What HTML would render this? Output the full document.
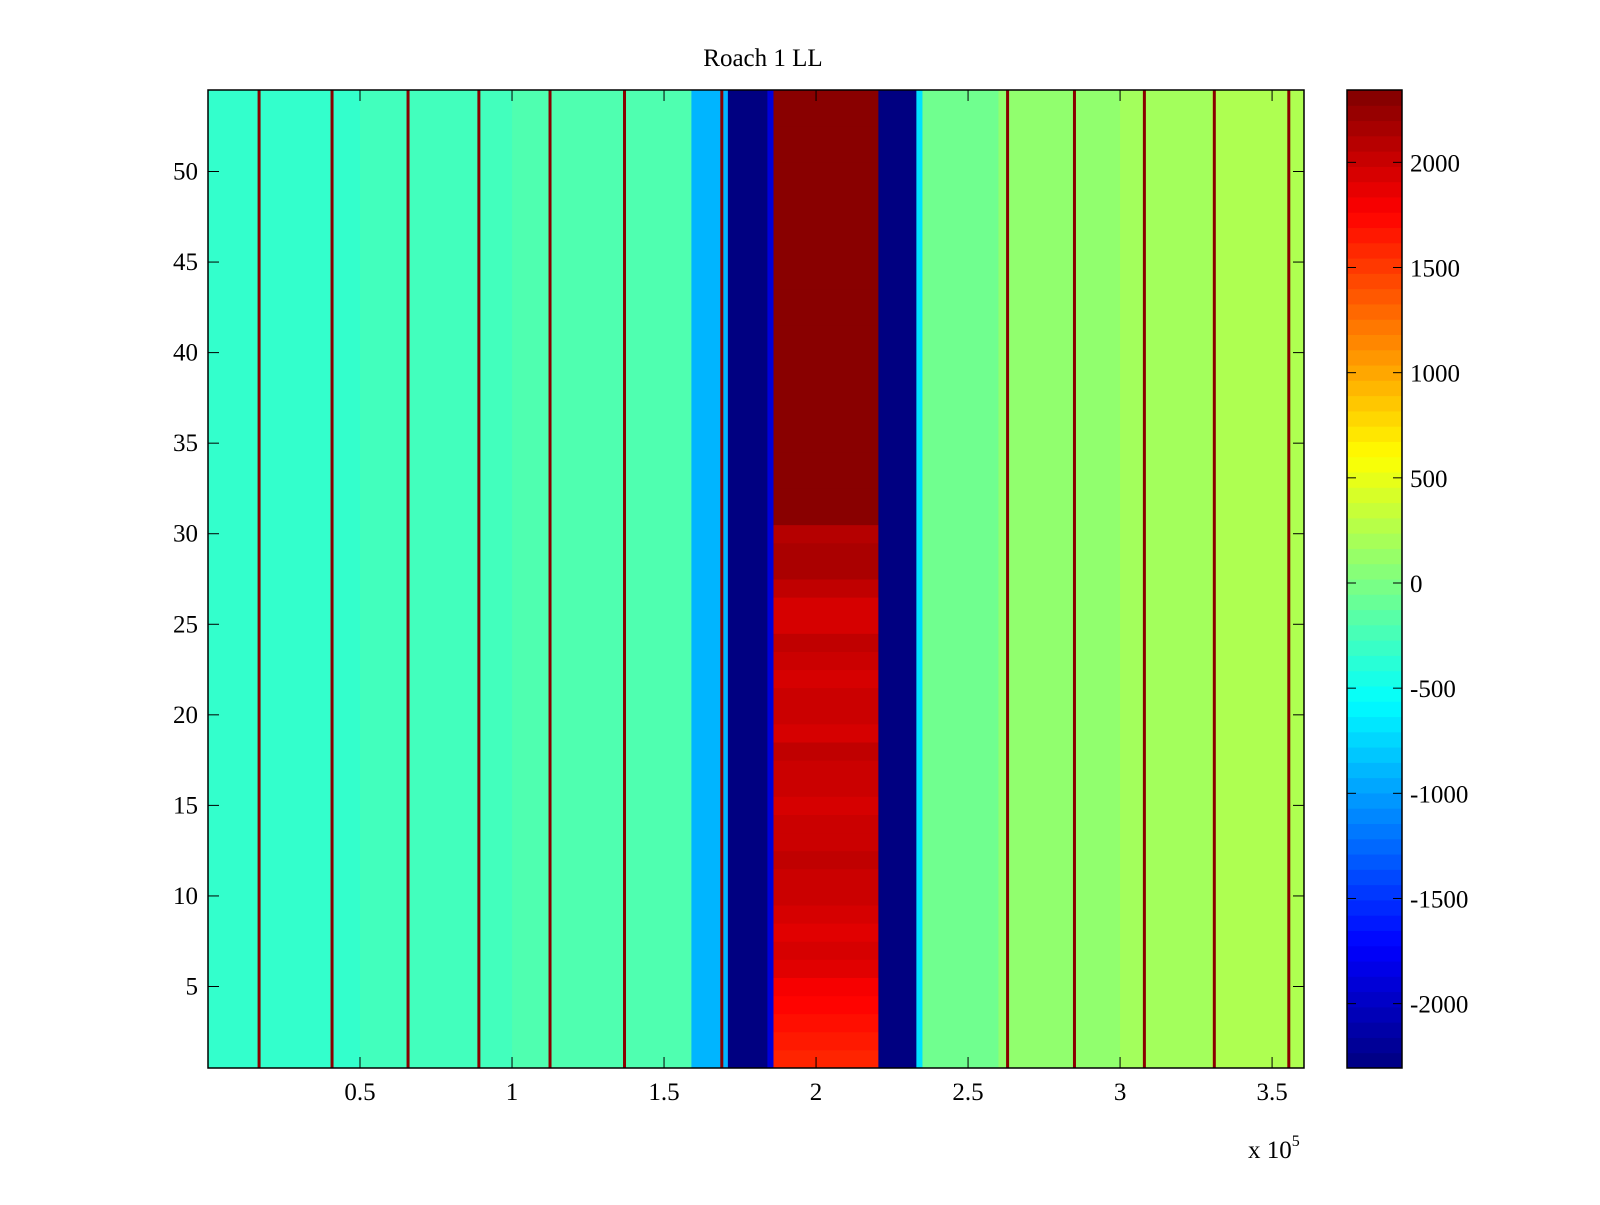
<!DOCTYPE html>
<html><head><meta charset="utf-8">
<style>
html,body{margin:0;padding:0;background:#fff;}
svg text{font-family:"Liberation Serif",serif;fill:#000;}
</style></head>
<body>
<svg id="fig" width="1600" height="1200" xmlns="http://www.w3.org/2000/svg">
<text x="763" y="66" font-size="25" text-anchor="middle">Roach 1 LL</text>
<g id="heat"></g>
<g id="axes"></g>
<g id="cbar"></g>
</svg>
<script>
// ---- data ----
const segEdges = [0, 0.5, 1.0, 1.59, 1.71, 1.84, 1.86, 2.205, 2.33, 2.35, 2.6, 3.0, 3.3, 3.605];
const segValues = [-330, -260, -200, -900, -2300, -1900, null, -2300, -700, -50, 100, 180, 230];
const redBlockRows = [1600,1650,1700,1750,1800,1900,1950,1900,1950,2000,2000,2050,2000,2000,1950,2000,2000,2050,1950,2000,2000,1950,2000,2050,1950,1950,2050,2150,2150,2100,2300,2300,2300,2300,2300,2300,2300,2300,2300,2300,2300,2300,2300,2300,2300,2300,2300,2300,2300,2300,2300,2300,2300,2300];
const lineXs = [0.168,0.408,0.658,0.891,1.125,1.37,1.69,2.63,2.85,3.08,3.31,3.555];
const lineValue = 2300;
const xTicks = [0.5,1,1.5,2,2.5,3,3.5];
const xTickLabels = ["0.5","1","1.5","2","2.5","3","3.5"];
const yTicks = [5,10,15,20,25,30,35,40,45,50];
const cTicks = [2000,1500,1000,500,0,-500,-1000,-1500,-2000];
const cTickLabels = ["2000","1500","1000","500","0","-500","-1000","-1500","-2000"];
// ---- geometry ----
const L=208,R=1304,T=90,B=1068;
const xMin=0,xMax=3.605,yMin=0.5,yMax=54.5,cMin=-2306,cMax=2344;
const CL=1347,CR=1402;
const xs=v=>L+(v-xMin)/(xMax-xMin)*(R-L);
const ys=v=>B-(v-yMin)/(yMax-yMin)*(B-T);
const cs=v=>B-(v-cMin)/(cMax-cMin)*(B-T);
function jet(t){t=Math.max(0,Math.min(1,t));const c=x=>Math.round(255*Math.max(0,Math.min(1,1.5-Math.abs(x))));return `rgb(${c(4*t-3)},${c(4*t-2)},${c(4*t-1)})`;}
const col=v=>jet((v-cMin)/(cMax-cMin));
const NS='http://www.w3.org/2000/svg';
function mk(tag,attrs,parent){const e=document.createElementNS(NS,tag);for(const k in attrs)e.setAttribute(k,attrs[k]);parent.appendChild(e);return e;}
const heat=document.getElementById('heat'),axes=document.getElementById('axes'),cbar=document.getElementById('cbar');
for(let s=0;s<segValues.length;s++){
  const x0=xs(segEdges[s]),x1=xs(segEdges[s+1]);
  if(segValues[s]!==null){
    const r=mk('rect',{x:x0,y:T,width:x1-x0+0.5,height:B-T,fill:col(segValues[s])},heat);
    
    
  } else {
    for(let i=0;i<redBlockRows.length;i++){
      const row=i+1;
      const r=mk('rect',{x:x0,y:ys(row+0.5),width:x1-x0+0.5,height:ys(row-0.5)-ys(row+0.5)+0.5,fill:col(redBlockRows[i])},heat);
      
      
    }
  }
}
for(const lx of lineXs){
  const r=mk('rect',{x:xs(lx)-1.5,y:T,width:3,height:B-T,fill:col(lineValue)},heat);
  
  
}
const frame=mk('rect',{x:L,y:T,width:R-L,height:B-T,fill:'none',stroke:'#000','stroke-width':1.5},axes);


xTicks.forEach((v,i)=>{
  const x=xs(v);
  mk('line',{x1:x,x2:x,y1:B,y2:B-11,stroke:'#000'},axes);
  mk('line',{x1:x,x2:x,y1:T,y2:T+11,stroke:'#000'},axes);
  const t=mk('text',{x:x,y:B+32,'font-size':25,'text-anchor':'middle'},axes);
  t.textContent=xTickLabels[i];
  
  
});
yTicks.forEach(v=>{
  const y=ys(v);
  mk('line',{x1:L,x2:L+11,y1:y,y2:y,stroke:'#000'},axes);
  mk('line',{x1:R,x2:R-11,y1:y,y2:y,stroke:'#000'},axes);
  const t=mk('text',{x:L-10,y:y+8,'font-size':25,'text-anchor':'end'},axes);
  t.textContent=String(v);
  
  
});
const ex=mk('text',{x:1248,y:1158,'font-size':25},axes);
ex.innerHTML='x 10<tspan font-size="16" dy="-12">5</tspan>';


// colorbar
const N=64;
for(let k=0;k<N;k++){
  const v0=cMin+(cMax-cMin)*k/N,v1=cMin+(cMax-cMin)*(k+1)/N;
  const r=mk('rect',{x:CL,y:cs(v1),width:CR-CL,height:cs(v0)-cs(v1)+0.5,fill:jet((k+0.5)/N)},cbar);
  
  
}
const cf=mk('rect',{x:CL,y:T,width:CR-CL,height:B-T,fill:'none',stroke:'#000','stroke-width':1.5},cbar);


cTicks.forEach((v,i)=>{
  const y=cs(v);
  mk('line',{x1:CL,x2:CL+9,y1:y,y2:y,stroke:'#000'},cbar);
  mk('line',{x1:CR,x2:CR-9,y1:y,y2:y,stroke:'#000'},cbar);
  const t=mk('text',{x:CR+8,y:y+9,'font-size':25},cbar);
  t.textContent=cTickLabels[i];
  
  
});
</script>
</body></html>
